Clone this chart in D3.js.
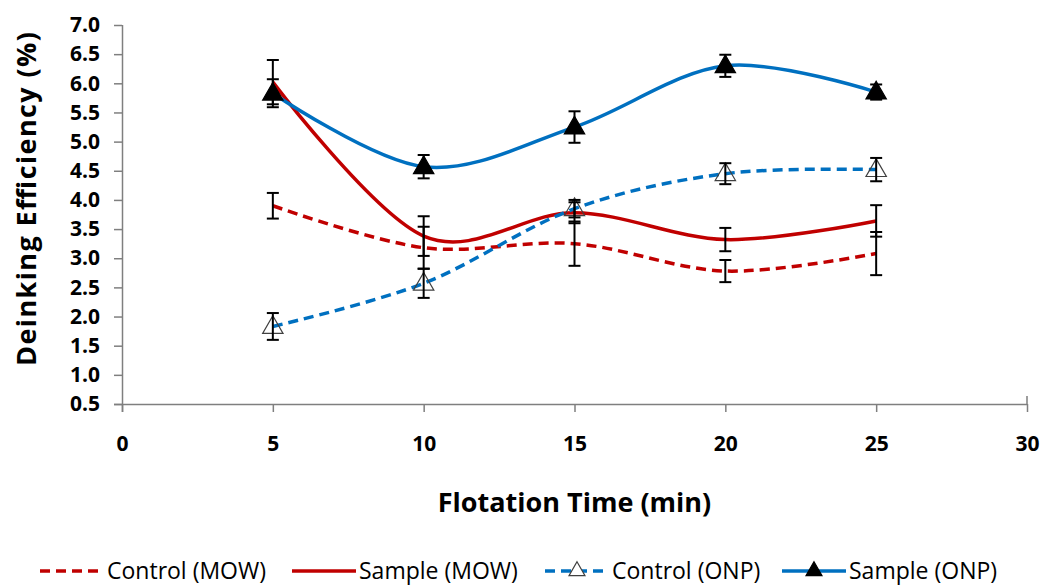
<!DOCTYPE html>
<meta charset="utf-8">
<head>
    <style>
        body {
            margin: 0;
            background: #fff;
            font-family: "Open Sans", sans-serif;
        }

        .axis path,
        .axis line {
            stroke: #7f7f7f;
            stroke-width: 1.5;
        }

        .axis text {
            font-family: "Open Sans", sans-serif;
            font-weight: bold;
            font-size: 21px;
            fill: #000;
        }

        .axisTitle {
            font-weight: bold;
            font-size: 27px;
        }

        .legend text {
            font-size: 23px;
        }
    </style>
</head>

<body>
    <script src="https://cdn.jsdelivr.net/npm/d3@7/dist/d3.min.js"></script>
    <script>
        // flotation time (min)
        var times = [5, 10, 15, 20, 25];

        var controlMOW = [3.90, 3.18, 3.25, 2.78, 3.08],
            controlMOWErr = [0.22, 0.36, 0.38, 0.19, 0.37];
        var sampleMOW = [6.02, 3.38, 3.78, 3.32, 3.64],
            sampleMOWErr = [0.38, 0.34, 0.18, 0.20, 0.27];
        var controlONP = [1.83, 2.57, 3.85, 4.45, 4.52],
            controlONPErr = [0.23, 0.25, 0.15, 0.18, 0.20];
        var sampleONP = [5.83, 4.57, 5.25, 6.30, 5.85],
            sampleONPErr = [0.24, 0.20, 0.27, 0.19, 0.13];

        var xTicks = [0, 5, 10, 15, 20, 25, 30];
        var yTicks = [0.5, 1.0, 1.5, 2.0, 2.5, 3.0, 3.5, 4.0, 4.5, 5.0, 5.5, 6.0, 6.5, 7.0];

        var series = [
            { name: "Control (MOW)", values: controlMOW, err: controlMOWErr, color: "#C00000", dash: "10,6", marker: null },
            { name: "Sample (MOW)", values: sampleMOW, err: sampleMOWErr, color: "#C00000", dash: null, marker: null },
            { name: "Control (ONP)", values: controlONP, err: controlONPErr, color: "#0070C0", dash: "10,6", marker: "open" },
            { name: "Sample (ONP)", values: sampleONP, err: sampleONPErr, color: "#0070C0", dash: null, marker: "filled" }
        ];

        var width = 1043, height = 586;
        var margin = { top: 25, right: 16, bottom: 182, left: 122 };

        var svg = d3.select("body").append("svg")
            .attr("width", width)
            .attr("height", height);

        var x = d3.scaleLinear().domain([0, 30]).range([margin.left, width - margin.right]);
        var y = d3.scaleLinear().domain([0.5, 7.0]).range([height - margin.bottom, margin.top]);

        // axes
        svg.append("g")
            .attr("class", "axis")
            .attr("transform", "translate(0," + y(0.5) + ")")
            .call(d3.axisBottom(x).tickValues(xTicks).tickSize(8).tickSizeOuter(0).tickPadding(24))
            .call(function (g) { g.select(".domain").attr("d", "M" + (x(0) - 8) + ",0.5H" + x(30) + "V-8"); });

        svg.append("g")
            .attr("class", "axis")
            .attr("transform", "translate(" + x(0) + ",0)")
            .call(d3.axisLeft(y).tickValues(yTicks).tickFormat(d3.format(".1f")).tickSize(8).tickSizeOuter(0).tickPadding(14))
            .call(function (g) { g.select(".domain").attr("d", "M0.5," + y(7.0) + "V" + (y(0.5) + 8)); });

        svg.append("text")
            .attr("class", "axisTitle")
            .attr("x", (x(0) + x(30)) / 2)
            .attr("y", 512)
            .attr("text-anchor", "middle")
            .text("Flotation Time (min)");

        svg.append("text")
            .attr("class", "axisTitle")
            .attr("transform", "translate(36,199) rotate(-90)")
            .attr("text-anchor", "middle")
            .attr("textLength", 334)
            .attr("lengthAdjust", "spacing")
            .text("Deinking Efficiency (%)");

        var line = d3.line()
            .x(function (d, i) { return x(times[i]); })
            .y(function (d) { return y(d); })
            .curve(d3.curveCardinal.tension(0));

        var tri = d3.symbol().type(d3.symbolTriangle).size(180);

        // lines
        series.forEach(function (s) {
            svg.append("path")
                .datum(s.values)
                .attr("fill", "none")
                .attr("stroke", s.color)
                .attr("stroke-width", 3.5)
                .attr("stroke-dasharray", s.dash)
                .attr("d", line);
        });

        // markers
        series.forEach(function (s) {
            if (!s.marker) return;
            svg.selectAll(null)
                .data(s.values)
                .enter().append("path")
                .attr("transform", function (d, i) { return "translate(" + x(times[i]) + "," + (y(d) + 1) + ")"; })
                .attr("d", tri)
                .attr("fill", s.marker == "filled" ? "#000" : "none")
                .attr("stroke", s.marker == "filled" ? "#000" : "#404040")
                .attr("stroke-width", 1.2);
        });

        // error bars
        series.forEach(function (s) {
            var g = svg.append("g").attr("stroke", "#000").attr("stroke-width", 2);
            s.values.forEach(function (v, i) {
                var cx = x(times[i]), y1 = y(v + s.err[i]), y2 = y(v - s.err[i]);
                g.append("line").attr("x1", cx).attr("x2", cx).attr("y1", y1).attr("y2", y2);
                g.append("line").attr("x1", cx - 6).attr("x2", cx + 6).attr("y1", y1).attr("y2", y1);
                g.append("line").attr("x1", cx - 6).attr("x2", cx + 6).attr("y1", y2).attr("y2", y2);
            });
        });

        // legend
        var legendX = [40, 292, 545, 782];
        var legend = svg.append("g").attr("class", "legend");
        series.forEach(function (s, i) {
            var lg = legend.append("g").attr("transform", "translate(" + legendX[i] + ",571)");
            lg.append("line")
                .attr("x1", 0).attr("x2", 64)
                .attr("stroke", s.color)
                .attr("stroke-width", 3.5)
                .attr("stroke-dasharray", s.dash);
            if (s.marker) {
                lg.append("path")
                    .attr("transform", "translate(32,0)")
                    .attr("d", d3.symbol().type(d3.symbolTriangle).size(110))
                    .attr("fill", s.marker == "filled" ? "#000" : "#fff")
                    .attr("stroke", s.marker == "filled" ? "#000" : "#404040")
                    .attr("stroke-width", 1.2);
            }
            lg.append("text")
                .attr("x", 67)
                .attr("dy", "0.35em")
                .text(s.name);
        });
    </script>
</body>
